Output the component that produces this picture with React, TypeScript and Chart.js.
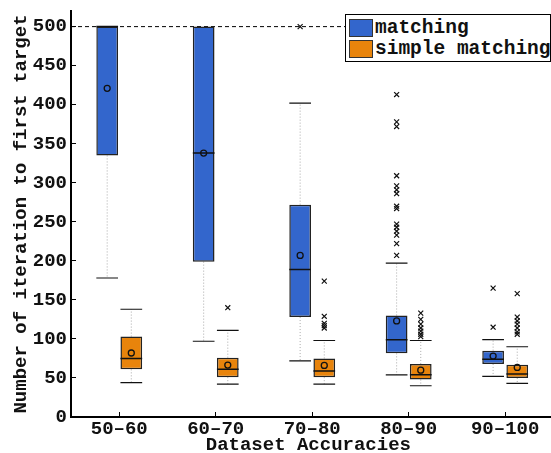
import React, { useEffect, useRef } from 'react';
import { Chart, registerables } from 'chart.js';

Chart.register(...registerables);

const categories = ['50–60', '60–70', '70–80', '80–90', '90–100'];
const xTickValues = [1, 2, 3, 4, 5];
const yTickValues = [0, 50, 100, 150, 200, 250, 300, 350, 400, 450, 500];
const limitValue = 500;
const seriesNames = ['matching', 'simple matching'];

// matching
const matchingQ1 = [335, 199, 128, 81.5, 68];
const matchingQ3 = [500, 500, 272, 130, 85];
const matchingMedian = [500, 338, 189, 99, 74];
const matchingMean = [421, 338, 207, 123, 78];
const matchingLow = [178, 97, 72, 54, 52];
const matchingHigh = [500, 500, 402, 197, 99];
const matchingOutliers = [
  [],
  [],
  [500],
  [413, 378, 372, 309, 296, 291, 286, 270, 267, 247, 243, 238, 233, 222, 207],
  [165, 115],
];

// simple matching
const simpleQ1 = [61, 51, 51, 48, 50];
const simpleQ3 = [103, 76, 75, 68, 67];
const simpleMedian = [75, 61, 59, 54, 55];
const simpleMean = [82, 66.5, 66, 60, 63.5];
const simpleLow = [44, 42, 42, 40, 43];
const simpleHigh = [138, 111, 98, 98, 90];
const simpleOutliers = [
  [],
  [140],
  [174, 129, 120, 117, 114],
  [133, 125, 119, 114, 110, 106, 103],
  [158, 128, 123, 119, 114, 109, 106],
];

const BLUE = '#3366CC';
const ORANGE = '#E8840C';
const FONT = "'Liberation Mono', 'Courier New', monospace";

// keeps only the left and bottom axis lines (no frame on top / right)
const axisCleanup = {
  id: 'axisCleanup',
  afterDraw(chart: any) {
    const { ctx, chartArea: a, width } = chart;
    ctx.save();
    ctx.fillStyle = '#fff';
    ctx.fillRect(a.left + 1.5, 0, width - a.left, a.top + 2);
    ctx.fillRect(a.right - 6, 0, width - (a.right - 6), a.bottom - 2);
    ctx.strokeStyle = '#000';
    ctx.lineWidth = 2;
    ctx.beginPath();
    ctx.moveTo(a.left, a.top);
    ctx.lineTo(a.left, a.bottom + 1);
    ctx.moveTo(a.left - 1, a.bottom);
    ctx.lineTo(width, a.bottom);
    ctx.stroke();
    ctx.restore();
  },
};

export default function App() {
  const ref = useRef<HTMLCanvasElement>(null);

  useEffect(() => {
    document.body.style.margin = '0';
    const canvas = ref.current;
    if (!canvas) return;

    const OFFSET = 0.125;
    const HALF = 0.1125;
    const series = [
      { q1: matchingQ1, q3: matchingQ3, med: matchingMedian, mean: matchingMean, low: matchingLow, high: matchingHigh, out: matchingOutliers, color: BLUE, sign: -1 },
      { q1: simpleQ1, q3: simpleQ3, med: simpleMedian, mean: simpleMean, low: simpleLow, high: simpleHigh, out: simpleOutliers, color: ORANGE, sign: 1 },
    ];

    const datasets: any[] = [];
    const medianPts: any[] = [];
    const capPts: any[] = [];
    const whiskerPts: any[] = [];
    const meanPts: any[] = [];
    const outPts: any[] = [];

    series.forEach((s, si) => {
      datasets.push({
        type: 'bar',
        label: seriesNames[si],
        data: xTickValues.map((x, i) => ({ x, y: [s.q1[i], s.q3[i]] })),
        backgroundColor: s.color,
        borderColor: '#222',
        borderWidth: 1.5,
        borderSkipped: false,
        categoryPercentage: 0.5,
        barPercentage: 0.9,
        order: 4,
      });
      xTickValues.forEach((x, i) => {
        const c = x + s.sign * OFFSET;
        medianPts.push({ x: c - HALF, y: s.med[i] }, { x: c + HALF, y: s.med[i] }, { x: c, y: null });
        if (s.high[i] > s.q3[i]) {
          capPts.push({ x: c - HALF, y: s.high[i] }, { x: c + HALF, y: s.high[i] }, { x: c, y: null });
          whiskerPts.push({ x: c, y: s.q3[i] }, { x: c, y: s.high[i] }, { x: c, y: null });
        }
        if (s.low[i] < s.q1[i]) {
          capPts.push({ x: c - HALF, y: s.low[i] }, { x: c + HALF, y: s.low[i] }, { x: c, y: null });
          whiskerPts.push({ x: c, y: s.q1[i] }, { x: c, y: s.low[i] }, { x: c, y: null });
        }
        meanPts.push({ x: c, y: s.mean[i] });
        s.out[i].forEach((v: number) => outPts.push({ x: c, y: v }));
      });
    });

    datasets.push(
      { type: 'line', data: [{ x: 0.5, y: limitValue }, { x: 5.42, y: limitValue }], borderColor: '#000', borderWidth: 1, borderDash: [4, 3], pointRadius: 0, fill: false, order: 7 },
      { type: 'line', data: whiskerPts, borderColor: '#aaa', borderWidth: 1, borderDash: [1, 2], pointRadius: 0, spanGaps: false, fill: false, order: 6 },
      { type: 'line', data: capPts, borderColor: '#111', borderWidth: 1.2, pointRadius: 0, spanGaps: false, fill: false, order: 5 },
      { type: 'line', data: medianPts, borderColor: '#111', borderWidth: 1.5, pointRadius: 0, spanGaps: false, fill: false, order: 2 },
      { type: 'scatter', data: meanPts, pointStyle: 'circle', pointRadius: 3, borderColor: '#111', backgroundColor: 'rgba(0,0,0,0)', borderWidth: 1.3, order: 1 },
      { type: 'scatter', data: outPts, pointStyle: 'crossRot', pointRadius: 3.5, borderColor: '#111', borderWidth: 1.2, order: 1 }
    );

    const chart = new Chart(canvas, {
      type: 'bar',
      data: { datasets },
      plugins: [axisCleanup],
      options: {
        animation: false,
        responsive: false,
        devicePixelRatio: 1,
        layout: { padding: { top: 11, right: 0, left: 0, bottom: 0 } },
        plugins: { legend: { display: false }, tooltip: { enabled: false } },
        scales: {
          x: {
            type: 'linear',
            min: 0.5,
            max: 5.42,
            offset: false,
            afterBuildTicks: (scale: any) => {
              scale.ticks = xTickValues.map((v) => ({ value: v }));
            },
            afterFit: (scale: any) => {
              scale.height = 36;
              scale.paddingLeft = 0;
              scale.paddingRight = 0;
            },
            grid: { display: true, drawOnChartArea: false, drawTicks: true, tickLength: -5, color: '#000', offset: false },
            border: { display: true, color: '#000', width: 2 },
            ticks: {
              autoSkip: false,
              maxRotation: 0,
              padding: 6,
              color: '#111',
              font: { family: FONT, size: 19, weight: 'bold' },
              callback: (v: any) => categories[Math.round(Number(v)) - 1] ?? '',
            },
            title: {
              display: true,
              text: 'Dataset Accuracies',
              color: '#111',
              font: { family: FONT, size: 19, weight: 'bold', lineHeight: 0.85 },
              padding: { top: 0, bottom: 0 },
            },
          },
          y: {
            type: 'linear',
            min: 0,
            max: 520,
            afterBuildTicks: (scale: any) => {
              scale.ticks = yTickValues.map((v) => ({ value: v }));
            },
            afterFit: (scale: any) => {
              scale.width = 71;
              scale.paddingTop = 0;
              scale.paddingBottom = 0;
            },
            grid: { display: true, drawOnChartArea: false, drawTicks: true, tickLength: -5, color: '#000' },
            border: { display: true, color: '#000', width: 2 },
            ticks: {
              padding: 9,
              color: '#111',
              font: { family: FONT, size: 19, weight: 'bold' },
            },
            title: {
              display: true,
              text: 'Number of iteration to first target',
              color: '#111',
              font: { family: FONT, size: 19, weight: 'bold', lineHeight: 1 },
              padding: { top: 12, bottom: 0 },
            },
          },
        },
      } as any,
    });

    return () => chart.destroy();
  }, []);

  const swatch = (color: string) => ({
    display: 'inline-block',
    width: 22,
    height: 16,
    background: color,
    border: '1px solid #333',
    marginRight: 2,
    flex: 'none' as const,
  });

  return (
    <div style={{ position: 'relative', width: 551, height: 453, overflow: 'hidden' }}>
      <canvas ref={ref} width={551} height={453} style={{ display: 'block' }} />
      <div
        style={{
          position: 'absolute',
          left: 345,
          top: 14,
          width: 204,
          height: 43,
          border: '1px solid #000',
          background: '#fff',
          fontFamily: FONT,
          fontWeight: 'bold',
          fontSize: 19.5,
          color: '#111',
          paddingTop: 3,
          boxSizing: 'content-box',
        }}
      >
        {seriesNames.map((name, i) => (
          <div key={name} style={{ display: 'flex', alignItems: 'center', height: 20.6, paddingLeft: 3, whiteSpace: 'nowrap' }}>
            <span style={swatch(i === 0 ? BLUE : ORANGE)} />
            <span>{name}</span>
          </div>
        ))}
      </div>
    </div>
  );
}
